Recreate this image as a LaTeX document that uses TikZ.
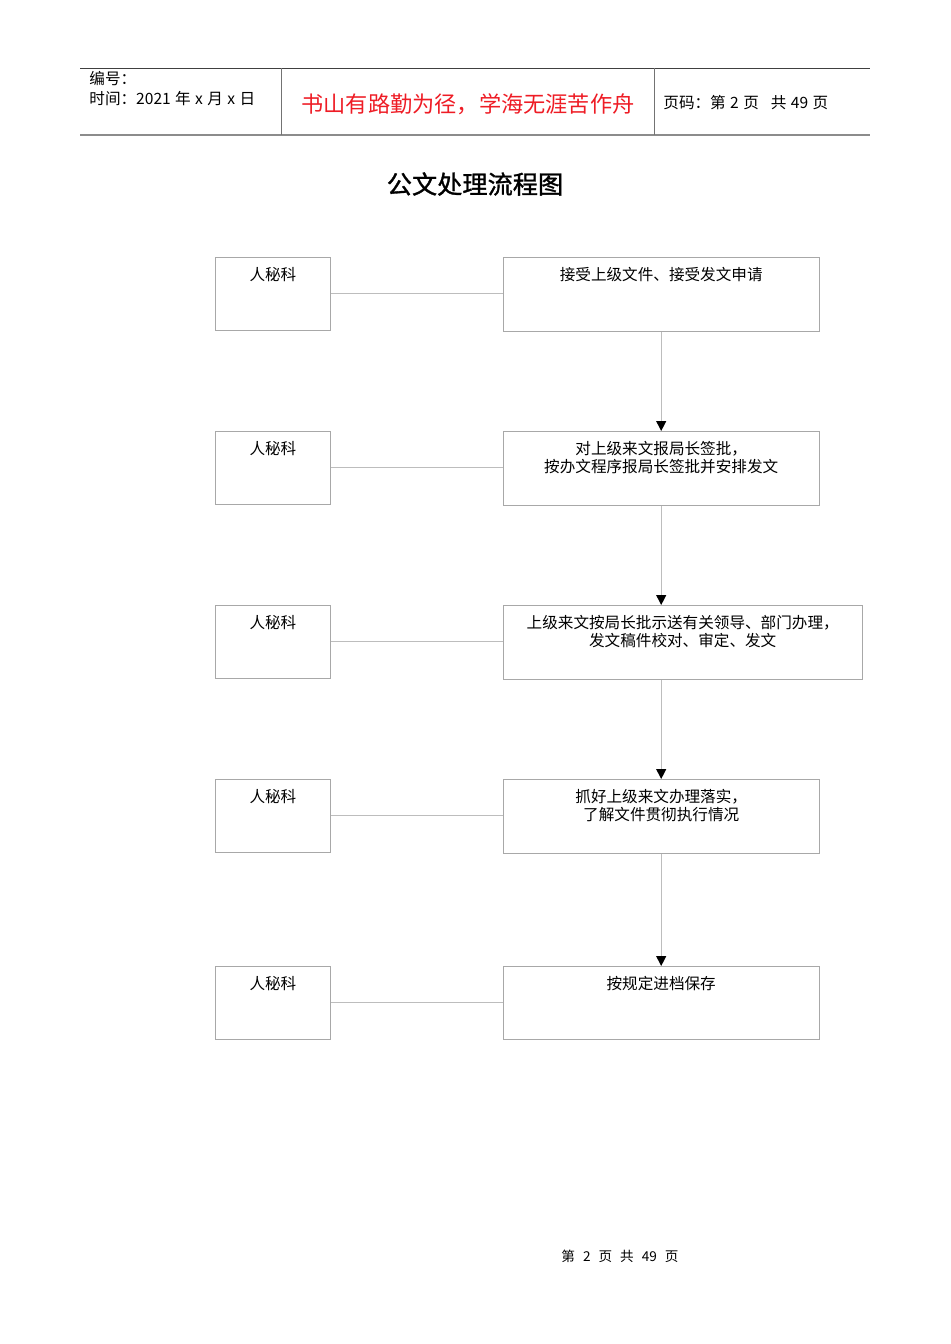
\documentclass[tikz,border=0pt]{standalone}
\usepackage{fontspec}
\usepackage{tikz}
\usetikzlibrary{positioning, arrows.meta}
\setmainfont{Noto Sans CJK SC}
\newfontfamily\titlefont[FakeBold=1.2]{Noto Sans CJK SC}
\definecolor{boxgray}{HTML}{A8A8A8}
\definecolor{linegray}{HTML}{BDBDBD}
\definecolor{slogan}{HTML}{EE1C25}
\newcommand{\boxfont}{\fontsize{7.8}{9.2}\selectfont}
\newcommand{\gap}{\hspace{2.2pt}}

\begin{document}
\begin{tikzpicture}[x=0.5pt, y=-0.5pt,
        % riquadri a sinistra (ufficio)
        dept/.style={
            draw=boxgray,
            anchor=north west,
            minimum width=57.5pt,
            minimum height=36.5pt,
            inner sep=0pt
        },
        % riquadri a destra (passi)
        task/.style={
            draw=boxgray,
            anchor=north west,
            minimum width=158pt,
            minimum height=37pt,
            inner sep=0pt
        },
        boxtext/.style={font=\boxfont, align=center, below=1.5pt},
        head/.style={font=\fontsize{7.8}{9}\selectfont, inner sep=0pt},
        link/.style={draw=linegray, line width=0.5pt},
        flow/.style={draw=linegray, line width=0.5pt, -{Triangle[black, width=5pt, length=5pt]}},
    ]
    \useasboundingbox (0,0) rectangle (950,1344);

    % intestazione
    \draw[black!75, line width=0.5pt] (80,68) -- (870,68);
    \draw[black!45, line width=1pt] (80,135) -- (870,135);
    \draw[black!55, line width=0.4pt] (281,68) -- (281,135);
    \draw[black!55, line width=0.4pt] (654,68) -- (654,135);

    \node[head, anchor=west] (code) at (89,79) {编号：};
    \node[head, anchor=west] (date) at (89,99) {时间：2021\gap 年\gap x\gap 月\gap x\gap 日};
    \node[font=\fontsize{11.1}{12}\selectfont, text=slogan] (motto) at (468,104) {书山有路勤为径，学海无涯苦作舟};
    \node[head, anchor=west] (page) at (663,103) {页码：第\gap 2\gap 页\hspace{6pt}共\gap 49\gap 页};

    \node[font=\titlefont\fontsize{12.6}{14}\selectfont] (title) at (475,184) {公文处理流程图};

    % colonna sinistra
    \node[dept, label={[boxtext]north:人秘科}] (ofc1) at (215,257) {};
    \node[dept, label={[boxtext]north:人秘科}] (ofc2) at (215,431) {};
    \node[dept, label={[boxtext]north:人秘科}] (ofc3) at (215,605) {};
    \node[dept, label={[boxtext]north:人秘科}] (ofc4) at (215,779) {};
    \node[dept, label={[boxtext]north:人秘科}] (ofc5) at (215,966) {};

    % colonna destra
    \node[task, right=86pt of ofc1.north east, anchor=north west,
        label={[boxtext]north:接受上级文件、接受发文申请}] (recv) {};
    \node[task, right=86pt of ofc2.north east, anchor=north west,
        label={[boxtext]north:对上级来文报局长签批，\\按办文程序报局长签批并安排发文}] (sign) {};
    \node[task, right=86pt of ofc3.north east, anchor=north west, minimum width=179.5pt,
        label={[boxtext]north:上级来文按局长批示送有关领导、部门办理，\\发文稿件校对、审定、发文}] (send) {};
    \node[task, right=86pt of ofc4.north east, anchor=north west,
        label={[boxtext]north:抓好上级来文办理落实，\\了解文件贯彻执行情况}] (check) {};
    \node[task, right=86pt of ofc5.north east, anchor=north west, minimum height=36.5pt,
        label={[boxtext]north:按规定进档保存}] (store) {};

    % linee orizzontali
    \draw[link] (ofc1.east) -- (ofc1.east -| recv.west);
    \draw[link] (ofc2.east) -- (ofc2.east -| sign.west);
    \draw[link] (ofc3.east) -- (ofc3.east -| send.west);
    \draw[link] (ofc4.east) -- (ofc4.east -| check.west);
    \draw[link] (ofc5.east) -- (ofc5.east -| store.west);

    % frecce verticali
    \draw[flow] (recv.south) -- (sign.north);
    \draw[flow] (sign.south) -- (sign.south |- send.north);
    \draw[flow] (send.south -| sign.south) -- (check.north);
    \draw[flow] (check.south) -- (store.north);

    \node[font=\fontsize{6.8}{8}\selectfont] (foot) at (620,1256) {第\hspace{4pt}2\hspace{4pt}页\hspace{4pt}共\hspace{4pt}49\hspace{4pt}页};
\end{tikzpicture}
\end{document}
